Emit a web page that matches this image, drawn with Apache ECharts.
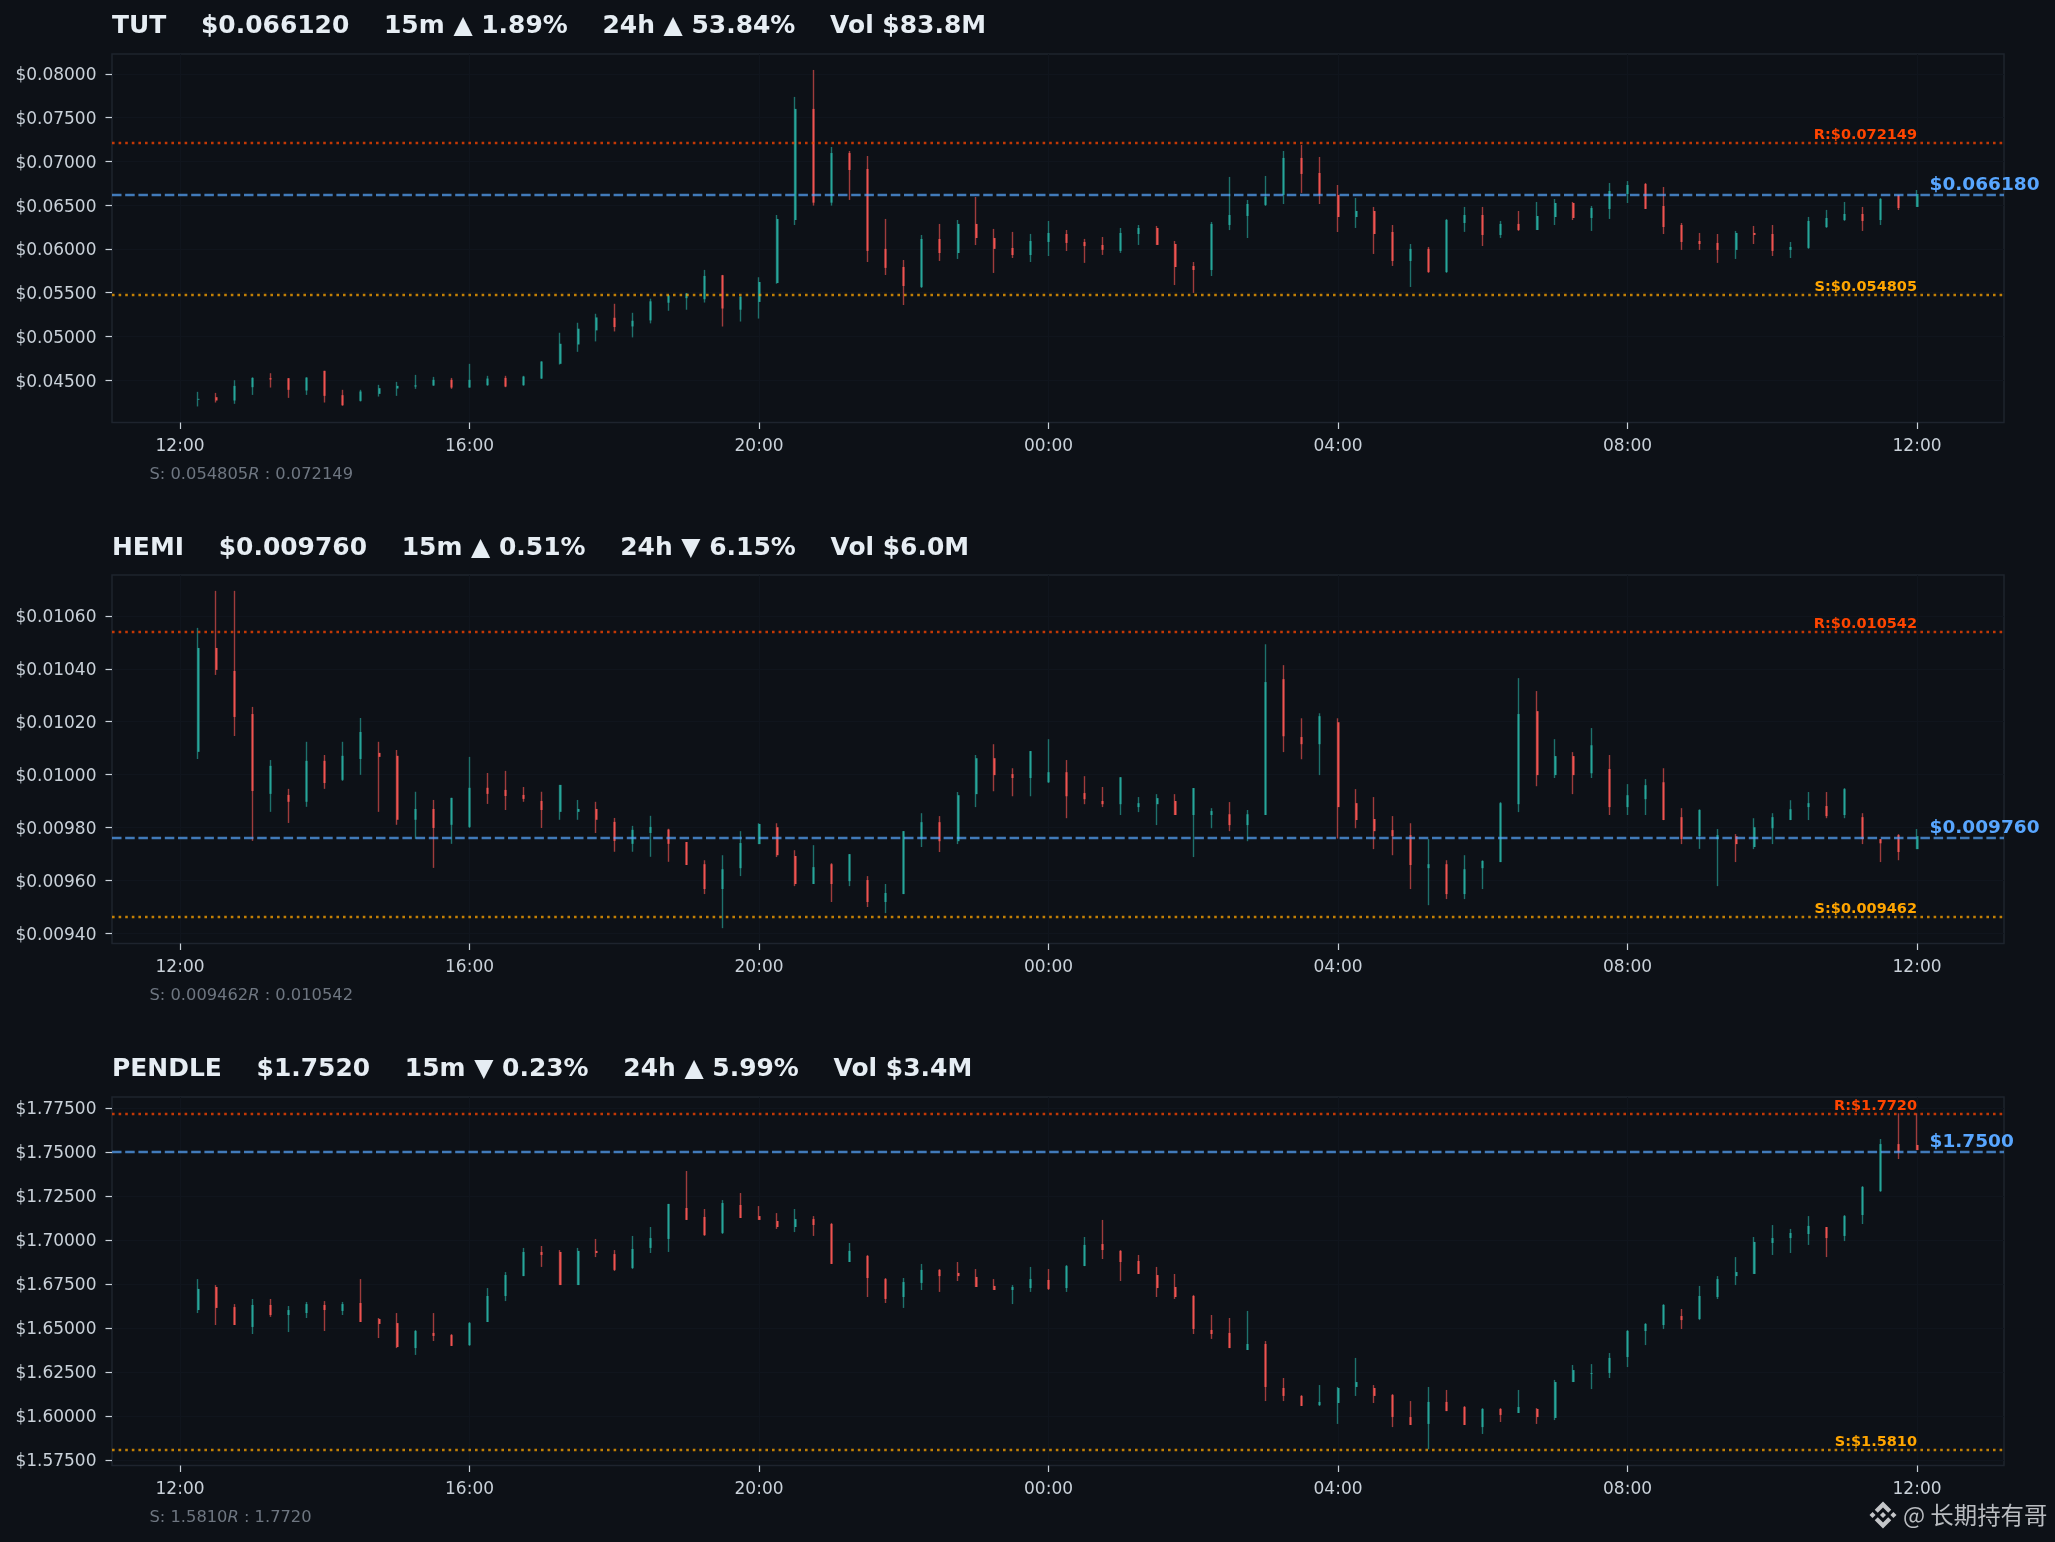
<!DOCTYPE html>
<html><head><meta charset="utf-8">
<style>html,body{margin:0;padding:0;background:#0d1117}#c{width:2055px;height:1542px}</style>
<script src="https://cdn.jsdelivr.net/npm/echarts@6/dist/echarts.min.js"></script>
</head><body><div id="c"></div>
<script>
const xTickLabels=['12:00','16:00','20:00','00:00','04:00','08:00','12:00'];
const tutYTicks=[0.045,0.05,0.055,0.06,0.065,0.07,0.075,0.08];
const tutYLabels=['$0.04500','$0.05000','$0.05500','$0.06000','$0.06500','$0.07000','$0.07500','$0.08000'];
const hemiYTicks=[0.0094,0.0096,0.0098,0.01,0.0102,0.0104,0.0106];
const hemiYLabels=['$0.00940','$0.00960','$0.00980','$0.01000','$0.01020','$0.01040','$0.01060'];
const pendleYTicks=[1.575,1.6,1.625,1.65,1.675,1.7,1.725,1.75,1.775];
const pendleYLabels=['$1.57500','$1.60000','$1.62500','$1.65000','$1.67500','$1.70000','$1.72500','$1.75000','$1.77500'];
const titles=['TUT    $0.066120    15m ▲ 1.89%    24h ▲ 53.84%    Vol $83.8M','HEMI    $0.009760    15m ▲ 0.51%    24h ▼ 6.15%    Vol $6.0M','PENDLE    $1.7520    15m ▼ 0.23%    24h ▲ 5.99%    Vol $3.4M'];
const footS=['0.054805','0.009462','1.5810'];
const footR=['0.072149','0.010542','1.7720'];
const levelS=[0.054805,0.009462,1.5810];
const levelR=[0.072149,0.010542,1.7720];
const levelNow=[0.066180,0.009760,1.7500];
const labelS=['S:$0.054805','S:$0.009462','S:$1.5810'];
const labelR=['R:$0.072149','R:$0.010542','R:$1.7720'];
const labelNow=['$0.066180','$0.009760','$1.7500'];
// [open, close, low, high], 15m candles from 12:15 to 12:00
const tutCandles=[
[0.04277,0.04287,0.04200,0.04367],[0.04306,0.04268,0.04245,0.04355],[0.04268,0.04435,0.04230,0.04500],[0.04420,0.04526,0.04332,0.04534],
[0.04523,0.04508,0.04416,0.04580],[0.04523,0.04390,0.04298,0.04523],[0.04382,0.04530,0.04332,0.04534],[0.04607,0.04321,0.04245,0.04607],
[0.04329,0.04214,0.04207,0.04390],[0.04264,0.04371,0.04256,0.04390],[0.04344,0.04409,0.04313,0.04447],[0.04405,0.04435,0.04321,0.04481],
[0.04427,0.04442,0.04401,0.04561],[0.04439,0.04504,0.04436,0.04538],[0.04504,0.04416,0.04401,0.04526],[0.04416,0.04504,0.04416,0.04687],
[0.04443,0.04519,0.04436,0.04550],[0.04526,0.04427,0.04420,0.04550],[0.04443,0.04542,0.04436,0.04550],[0.04519,0.04713,0.04515,0.04717],
[0.04687,0.04916,0.04679,0.05042],[0.04908,0.05088,0.04824,0.05156],[0.05069,0.05217,0.04943,0.05259],[0.05213,0.05107,0.05057,0.05373],
[0.05114,0.05179,0.04989,0.05270],[0.05183,0.05401,0.05149,0.05431],[0.05385,0.05469,0.05293,0.05476],[0.05437,0.05491,0.05305,0.05495],
[0.05425,0.05691,0.05387,0.05760],[0.05699,0.05319,0.05113,0.05703],[0.05305,0.05456,0.05170,0.05456],[0.05394,0.05622,0.05204,0.05676],
[0.05610,0.06342,0.05602,0.06387],[0.06330,0.07599,0.06273,0.07736],[0.07599,0.06528,0.06494,0.08044],[0.06528,0.07095,0.06494,0.07164],
[0.07095,0.06901,0.06559,0.07118],[0.06913,0.05977,0.05850,0.07061],[0.06000,0.05783,0.05702,0.06342],[0.05793,0.05576,0.05359,0.05873],
[0.05565,0.06113,0.05553,0.06159],[0.06113,0.05953,0.05862,0.06285],[0.05953,0.06285,0.05885,0.06330],[0.06285,0.06124,0.06044,0.06593],
[0.06124,0.06000,0.05725,0.06228],[0.06010,0.05930,0.05896,0.06194],[0.05930,0.06090,0.05850,0.06171],[0.06079,0.06182,0.05919,0.06319],
[0.06170,0.06068,0.05976,0.06216],[0.06079,0.06032,0.05840,0.06114],[0.06045,0.05989,0.05931,0.06136],[0.05977,0.06182,0.05954,0.06239],
[0.06170,0.06239,0.06045,0.06273],[0.06239,0.06045,0.06045,0.06262],[0.06056,0.05793,0.05587,0.06090],[0.05804,0.05759,0.05497,0.05850],
[0.05759,0.06285,0.05690,0.06307],[0.06273,0.06387,0.06215,0.06822],[0.06376,0.06513,0.06124,0.06559],[0.06502,0.06597,0.06490,0.06833],
[0.06616,0.07039,0.06513,0.07118],[0.07039,0.06856,0.06639,0.07187],[0.06867,0.06616,0.06513,0.07050],[0.06616,0.06364,0.06193,0.06730],
[0.06364,0.06433,0.06239,0.06582],[0.06433,0.06170,0.05942,0.06479],[0.06193,0.05862,0.05805,0.06273],[0.05862,0.06000,0.05565,0.06056],
[0.06000,0.05736,0.05725,0.06022],[0.05736,0.06330,0.05725,0.06342],[0.06296,0.06387,0.06194,0.06479],[0.06387,0.06159,0.06033,0.06479],
[0.06159,0.06285,0.06125,0.06319],[0.06285,0.06216,0.06205,0.06433],[0.06216,0.06376,0.06216,0.06536],[0.06364,0.06524,0.06273,0.06570],
[0.06524,0.06353,0.06330,0.06536],[0.06353,0.06467,0.06205,0.06490],[0.06456,0.06661,0.06342,0.06753],[0.06627,0.06730,0.06524,0.06775],
[0.06741,0.06456,0.06456,0.06753],[0.06490,0.06250,0.06170,0.06707],[0.06273,0.06079,0.05988,0.06296],[0.06090,0.06056,0.05988,0.06182],
[0.06068,0.05988,0.05840,0.06170],[0.05988,0.06182,0.05885,0.06205],[0.06182,0.06159,0.06056,0.06262],[0.06170,0.05977,0.05919,0.06273],
[0.05988,0.06022,0.05896,0.06079],[0.06011,0.06319,0.06000,0.06365],[0.06250,0.06353,0.06239,0.06445],[0.06330,0.06399,0.06319,0.06536],
[0.06399,0.06319,0.06205,0.06479],[0.06330,0.06570,0.06273,0.06582],[0.06616,0.06467,0.06444,0.06616],[0.06479,0.06627,0.06479,0.06673]];
const hemiCandles=[
[0.010086,0.010479,0.010059,0.010555],[0.010479,0.010396,0.010377,0.010695],[0.010392,0.010218,0.010146,0.010695],[0.010229,0.009938,0.009749,0.010256],
[0.009927,0.010033,0.009859,0.010055],[0.009923,0.009897,0.009817,0.009946],[0.009897,0.010052,0.009878,0.010124],[0.010052,0.009968,0.009946,0.010074],
[0.009980,0.010071,0.009976,0.010124],[0.010059,0.010161,0.009999,0.010214],[0.010082,0.010067,0.009859,0.010124],[0.010071,0.009829,0.009810,0.010093],
[0.009829,0.009870,0.009757,0.009935],[0.009870,0.009798,0.009647,0.009904],[0.009810,0.009912,0.009738,0.009912],[0.009802,0.009950,0.009798,0.010067],
[0.009950,0.009927,0.009889,0.010006],[0.009942,0.009919,0.009866,0.010014],[0.009923,0.009908,0.009897,0.009953],[0.009900,0.009866,0.009798,0.009935],
[0.009859,0.009961,0.009829,0.009961],[0.009859,0.009870,0.009829,0.009904],[0.009870,0.009829,0.009779,0.009897],[0.009821,0.009749,0.009708,0.009836],
[0.009738,0.009791,0.009708,0.009806],[0.009779,0.009802,0.009689,0.009844],[0.009792,0.009738,0.009670,0.009795],[0.009745,0.009658,0.009658,0.009745],
[0.009661,0.009567,0.009548,0.009676],[0.009567,0.009642,0.009419,0.009695],[0.009646,0.009741,0.009616,0.009786],[0.009737,0.009813,0.009737,0.009816],
[0.009801,0.009695,0.009688,0.009816],[0.009692,0.009586,0.009578,0.009714],[0.009586,0.009650,0.009586,0.009733],[0.009661,0.009586,0.009518,0.009665],
[0.009597,0.009699,0.009578,0.009699],[0.009601,0.009518,0.009499,0.009616],[0.009518,0.009552,0.009476,0.009586],[0.009548,0.009786,0.009548,0.009786],
[0.009756,0.009820,0.009726,0.009854],[0.009820,0.009748,0.009707,0.009843],[0.009748,0.009922,0.009737,0.009934],[0.009926,0.010062,0.009877,0.010074],
[0.010062,0.009998,0.009937,0.010115],[0.010002,0.009987,0.009918,0.010024],[0.009987,0.010089,0.009918,0.010089],[0.009971,0.010009,0.009968,0.010134],
[0.010009,0.009918,0.009835,0.010055],[0.009930,0.009907,0.009888,0.009994],[0.009900,0.009888,0.009877,0.009953],[0.009888,0.009990,0.009847,0.009990],
[0.009877,0.009892,0.009858,0.009915],[0.009888,0.009911,0.009809,0.009926],[0.009900,0.009847,0.009847,0.009926],[0.009847,0.009949,0.009688,0.009949],
[0.009847,0.009862,0.009797,0.009873],[0.009850,0.009809,0.009786,0.009896],[0.009809,0.009850,0.009748,0.009866],[0.009847,0.010350,0.009847,0.010493],
[0.010361,0.010145,0.010085,0.010414],[0.010142,0.010115,0.010058,0.010213],[0.010115,0.010221,0.009998,0.010232],[0.010198,0.009877,0.009758,0.010213],
[0.009892,0.009828,0.009797,0.009945],[0.009832,0.009786,0.009718,0.009915],[0.009790,0.009767,0.009695,0.009843],[0.009771,0.009658,0.009567,0.009816],
[0.009646,0.009661,0.009506,0.009756],[0.009661,0.009548,0.009529,0.009676],[0.009548,0.009642,0.009529,0.009695],[0.009646,0.009673,0.009567,0.009676],
[0.009669,0.009892,0.009669,0.009896],[0.009888,0.010229,0.009858,0.010365],[0.010240,0.009998,0.009956,0.010316],[0.009998,0.010070,0.009987,0.010134],
[0.010070,0.009998,0.009926,0.010085],[0.010005,0.010111,0.009987,0.010176],[0.010021,0.009877,0.009847,0.010074],[0.009877,0.009922,0.009847,0.009964],
[0.009907,0.009960,0.009847,0.009983],[0.009971,0.009828,0.009828,0.010024],[0.009839,0.009756,0.009737,0.009873],[0.009767,0.009866,0.009719,0.009869],
[0.009756,0.009771,0.009578,0.009794],[0.009767,0.009737,0.009669,0.009775],[0.009726,0.009801,0.009718,0.009835],[0.009797,0.009839,0.009737,0.009854],
[0.009828,0.009869,0.009828,0.009903],[0.009877,0.009892,0.009828,0.009934],[0.009881,0.009843,0.009835,0.009934],[0.009847,0.009945,0.009835,0.009949],
[0.009839,0.009756,0.009737,0.009854],[0.009756,0.009740,0.009669,0.009756],[0.009771,0.009707,0.009676,0.009775],[0.009718,0.009767,0.009718,0.009794]];
const pendleCandles=[
[1.6602,1.6722,1.6585,1.6778],[1.6733,1.6614,1.6517,1.6744],[1.6619,1.6517,1.6517,1.6636],[1.6506,1.6631,1.6466,1.6665],
[1.6631,1.6574,1.6563,1.6665],[1.6574,1.6602,1.6477,1.6625],[1.6585,1.6636,1.6557,1.6648],[1.6631,1.6602,1.6483,1.6653],
[1.6597,1.6636,1.6574,1.6648],[1.6642,1.6534,1.6534,1.6778],[1.6551,1.6523,1.6443,1.6557],[1.6528,1.6392,1.6386,1.6585],
[1.6386,1.6483,1.6347,1.6489],[1.6472,1.6455,1.6426,1.6585],[1.6460,1.6398,1.6398,1.6466],[1.6403,1.6528,1.6398,1.6534],
[1.6534,1.6682,1.6534,1.6727],[1.6682,1.6801,1.6653,1.6818],[1.6795,1.6932,1.6795,1.6955],[1.6932,1.6915,1.6847,1.6966],
[1.6932,1.6744,1.6744,1.6943],[1.6744,1.6938,1.6744,1.6955],[1.6938,1.6926,1.6903,1.7006],[1.6920,1.6830,1.6824,1.6943],
[1.6841,1.6949,1.6835,1.7023],[1.6955,1.7011,1.6926,1.7074],[1.7006,1.7205,1.6932,1.7205],[1.7182,1.7114,1.7114,1.7392],
[1.7131,1.7028,1.7023,1.7176],[1.7040,1.7210,1.7034,1.7227],[1.7199,1.7125,1.7125,1.7267],[1.7136,1.7114,1.7114,1.7193],
[1.7108,1.7074,1.7063,1.7153],[1.7074,1.7119,1.7045,1.7176],[1.7119,1.7085,1.7023,1.7136],[1.7091,1.6864,1.6864,1.7097],
[1.6875,1.6938,1.6875,1.6983],[1.6909,1.6784,1.6676,1.6915],[1.6778,1.6665,1.6642,1.6784],[1.6676,1.6761,1.6614,1.6784],
[1.6756,1.6830,1.6716,1.6864],[1.6830,1.6795,1.6705,1.6835],[1.6813,1.6795,1.6767,1.6875],[1.6790,1.6733,1.6733,1.6835],
[1.6739,1.6716,1.6716,1.6778],[1.6716,1.6733,1.6636,1.6744],[1.6727,1.6778,1.6705,1.6847],[1.6773,1.6722,1.6716,1.6835],
[1.6727,1.6852,1.6705,1.6858],[1.6852,1.6972,1.6852,1.7017],[1.6977,1.6943,1.6892,1.7114],[1.6938,1.6875,1.6767,1.6943],
[1.6881,1.6807,1.6807,1.6915],[1.6801,1.6727,1.6676,1.6847],[1.6733,1.6676,1.6665,1.6807],[1.6682,1.6494,1.6466,1.6688],
[1.6489,1.6466,1.6438,1.6574],[1.6472,1.6386,1.6386,1.6557],[1.6375,1.6409,1.6375,1.6597],[1.6409,1.6165,1.6085,1.6426],
[1.6159,1.6114,1.6085,1.6216],[1.6114,1.6057,1.6057,1.6119],[1.6062,1.6080,1.6057,1.6176],[1.6074,1.6159,1.5955,1.6165],
[1.6165,1.6193,1.6114,1.6330],[1.6159,1.6114,1.6074,1.6176],[1.6119,1.5994,1.5937,1.6125],[1.5994,1.5949,1.5949,1.6085],
[1.5955,1.6080,1.5811,1.6165],[1.6080,1.6028,1.6028,1.6148],[1.6051,1.5949,1.5949,1.6057],[1.5937,1.6040,1.5898,1.6045],
[1.6040,1.6006,1.5966,1.6045],[1.6017,1.6051,1.6017,1.6148],[1.6040,1.5994,1.5955,1.6045],[1.5989,1.6193,1.5977,1.6205],
[1.6193,1.6261,1.6193,1.6290],[1.6239,1.6244,1.6153,1.6295],[1.6244,1.6330,1.6216,1.6358],[1.6335,1.6483,1.6278,1.6489],
[1.6483,1.6523,1.6403,1.6528],[1.6517,1.6631,1.6494,1.6636],[1.6568,1.6545,1.6494,1.6608],[1.6551,1.6682,1.6545,1.6739],
[1.6676,1.6778,1.6665,1.6795],[1.6795,1.6818,1.6744,1.6903],[1.6807,1.6989,1.6807,1.7017],[1.6983,1.7011,1.6915,1.7085],
[1.7011,1.7040,1.6926,1.7063],[1.7034,1.7080,1.6972,1.7136],[1.7074,1.7011,1.6903,1.7074],[1.7023,1.7136,1.6994,1.7142],
[1.7142,1.7301,1.7091,1.7307],[1.7278,1.7545,1.7273,1.7574],[1.7545,1.7500,1.7460,1.7720],[1.7540,1.7511,1.7511,1.7720]];

// x axis runs in minutes since the first 12:00 tick
const STEP=15;
const xTicks=xTickLabels.map((_,i)=>i*240);
const xMin=-56.4, xMax=1440+72.1;
const UP='#26a69a', DOWN='#ef5350', UPW='#1e716c', DOWNW='#9e3c3c';
const FONT='"DejaVu Sans"';

const panels=[
 {candles:tutCandles,ticks:tutYTicks,labels:tutYLabels,min:0.040168,max:0.082262,top:54,titleY:14,footY:467},
 {candles:hemiCandles,ticks:hemiYTicks,labels:hemiYLabels,min:0.009361,max:0.010755,top:575,titleY:536.5,footY:988},
 {candles:pendleCandles,ticks:pendleYTicks,labels:pendleYLabels,min:1.57188,max:1.78125,top:1097,titleY:1057.5,footY:1510}];
const GRID_H=368.5;
const grid=[],xAxis=[],yAxis=[],series=[],title=[];
panels.forEach((p,k)=>{
 const lastT=p.candles.length*STEP;
 grid.push({left:112,right:51,top:p.top,height:GRID_H,show:true,backgroundColor:'transparent',borderColor:'#1e242e',borderWidth:1.5,containLabel:false});
 xAxis.push({type:'value',gridIndex:k,min:xMin,max:xMax,
  axisLine:{show:false,onZero:false},
  axisTick:{show:true,length:6.5,lineStyle:{color:'#c9d1d9',width:1.2},customValues:xTicks},
  axisLabel:{color:'#c9d1d9',fontFamily:FONT,fontSize:17,margin:15.5,hideOverlap:false,customValues:xTicks,
   formatter:(v)=>xTickLabels[xTicks.indexOf(v)]},
  splitLine:{show:true,lineStyle:{color:'#10151d',width:1}}});
 yAxis.push({type:'value',gridIndex:k,min:p.min,max:p.max,scale:true,
  axisLine:{show:false,onZero:false},
  axisTick:{show:true,length:6.5,lineStyle:{color:'#c9d1d9',width:1.2},customValues:p.ticks},
  axisLabel:{color:'#c9d1d9',fontFamily:FONT,fontSize:17,margin:15.5,verticalAlign:'top',lineHeight:4,customValues:p.ticks,
   formatter:(v)=>p.labels[p.ticks.indexOf(v)]},
  splitLine:{show:true,lineStyle:{color:'#10151d',width:1}}});
 const toXY=(rows)=>rows.map((r,i)=>[(i+1)*STEP,r[0],r[1],r[2],r[3]]);
 series.push({type:'candlestick',xAxisIndex:k,yAxisIndex:k,barWidth:1,silent:true,z:2,
  itemStyle:{color:'transparent',color0:'transparent',borderColor:UPW,borderColor0:DOWNW,borderWidth:1.4},
  data:toXY(p.candles)});
 series.push({type:'candlestick',xAxisIndex:k,yAxisIndex:k,barWidth:2.5,silent:true,z:3,
  itemStyle:{color:UP,color0:DOWN,borderColor:UP,borderColor0:DOWN,borderWidth:0},
  data:toXY(p.candles.map(r=>[r[0],r[1],Math.min(r[0],r[1]),Math.max(r[0],r[1])])),
  markLine:{silent:true,symbol:'none',animation:false,label:{show:false},precision:8,z:6,data:[
   {yAxis:levelR[k],lineStyle:{color:'#ff4500',type:[2.6,4],width:2.4,opacity:.75}},
   {yAxis:levelS[k],lineStyle:{color:'#ffa500',type:[2.6,4],width:2.4,opacity:.75}},
   {yAxis:levelNow[k],lineStyle:{color:'#58a6ff',type:[9.5,3.7],width:2.4,opacity:.7}}]},
  markPoint:{silent:true,symbol:'circle',symbolSize:0,animation:false,z:7,data:[
   {coord:[lastT,levelR[k]],label:{show:true,formatter:labelR[k],position:'top',align:'right',distance:1.5,offset:[0,1.5],color:'#ff4500',fontFamily:FONT,fontWeight:'bold',fontSize:14.5}},
   {coord:[lastT,levelS[k]],label:{show:true,formatter:labelS[k],position:'top',align:'right',distance:1.5,offset:[0,1.5],color:'#ffa500',fontFamily:FONT,fontWeight:'bold',fontSize:14.5}},
   {coord:[lastT,levelNow[k]],label:{show:true,formatter:labelNow[k],position:'top',align:'left',distance:1,offset:[12.5,0.5],color:'#58a6ff',fontFamily:FONT,fontWeight:'bold',fontSize:18.5}}]}});
 title.push({text:titles[k],left:112,top:p.titleY,padding:0,textStyle:{color:'#e6edf3',fontFamily:FONT,fontWeight:'bold',fontSize:24.95}});
 title.push({text:`{a|S: ${footS[k]}}{i|R}{a| : ${footR[k]}}`,left:149.5,top:p.footY,padding:0,
  textStyle:{fontWeight:'normal',rich:{a:{color:'#6e7681',fontFamily:FONT,fontWeight:'normal',fontSize:16.3},i:{color:'#6e7681',fontFamily:FONT,fontWeight:'normal',fontSize:16.3,fontStyle:'italic'}}}});
});
const logoFill={fill:'#c4c6c9'};
const logoParts=[
 [[12,0],[19.34,7.34],[16.62,10.06],[12,5.42],[7.35,10.08],[4.64,7.36]],
 [[16.62,13.92],[19.34,16.64],[12,24],[4.64,16.64],[7.35,13.92],[12,18.58]],
 [[2.72,9.28],[5.41,12],[2.72,14.69],[0,12]],
 [[21.26,9.28],[24,12],[21.28,14.72],[18.57,12]],
 [[12,9.28],[14.7,12],[12,14.7],[9.27,12]]];
const chart=echarts.init(document.getElementById('c'),null,{renderer:'canvas',width:2055,height:1542,devicePixelRatio:1});
chart.setOption({animation:false,backgroundColor:'#0d1117',grid,xAxis,yAxis,series,title,tooltip:{show:false},legend:{show:false},
 graphic:{elements:[
  {type:'group',silent:true,x:1869.5,y:1501.5,scaleX:1.125,scaleY:1.125,children:logoParts.map(pts=>({type:'polygon',silent:true,z:100,shape:{points:pts},style:logoFill}))},
  {type:'text',silent:true,z:100,x:1903,y:1515,style:{text:'@ 长期持有哥',fill:'#b9bcc0',font:'23.4px "Noto Sans CJK SC"',verticalAlign:'middle'}}
 ]}});
</script></body></html>
